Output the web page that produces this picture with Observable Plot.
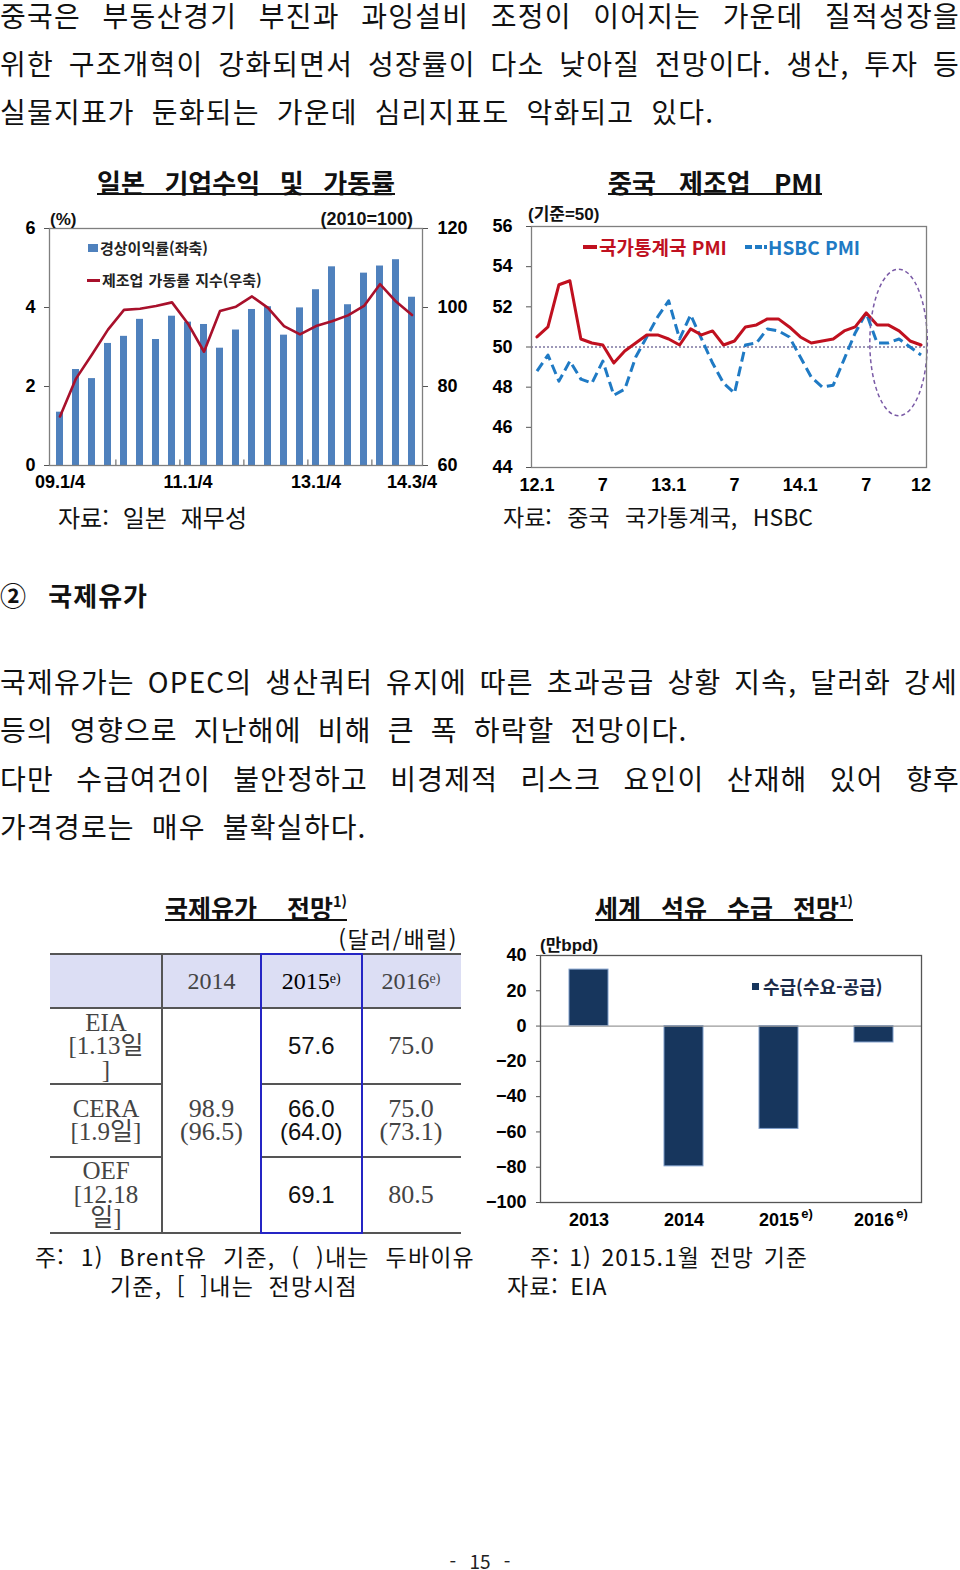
<!DOCTYPE html>
<html lang="ko"><head><meta charset="utf-8">
<script src="https://cdn.jsdelivr.net/npm/d3@7"></script>
<script src="https://cdn.jsdelivr.net/npm/@observablehq/plot@0.6"></script>
<style>
html,body{margin:0;padding:0;background:#fff;}
#page{position:relative;width:960px;height:1570px;overflow:hidden;background:#fff;font-family:"Noto Sans CJK KR","Noto Sans",sans-serif;color:#111;}
.a{position:absolute;white-space:nowrap;line-height:1;}
.fx{display:flex;justify-content:space-between;}
.chart{position:absolute;}
.chart svg{overflow:visible;}
.cell{position:absolute;display:flex;flex-direction:column;align-items:center;justify-content:center;text-align:center;white-space:nowrap;}
sup{font-size:0.58em;vertical-align:top;position:relative;top:-0.1em;}
</style></head><body><div id="page"></div>
<script>
// ---------------- DATA ----------------
// Japan: ordinary profit ratio (%, left) and manufacturing operating rate index (2010=100, right)
const quarters = ["09.1/4","09.2/4","09.3/4","09.4/4","10.1/4","10.2/4","10.3/4","10.4/4",
  "11.1/4","11.2/4","11.3/4","11.4/4","12.1/4","12.2/4","12.3/4","12.4/4",
  "13.1/4","13.2/4","13.3/4","13.4/4","14.1/4","14.2/4","14.3/4"];
const profitRate = [1.35,2.43,2.20,3.09,3.27,3.70,3.19,3.78,3.63,3.57,2.97,3.43,3.95,4.02,3.30,3.99,4.45,5.03,4.07,4.87,5.05,5.21,4.26];
const utilizationIndex = [72.4,82.0,88.1,94.4,99.4,99.7,100.4,101.3,95.9,88.8,99.1,100.2,102.8,99.9,95.3,93.2,95.3,96.5,98.0,100.4,105.9,101.5,98.1];
const jpLabeledQuarters = ["09.1/4","11.1/4","13.1/4","14.3/4"];
const jpYearStarts = ["10.1/4","11.1/4","12.1/4","13.1/4","14.1/4"];
const jpLeftTicks = [0,2,4,6];
const jpRightTicks = [60,80,100,120];

// China PMI
const pmiMonths = ["12.1","12.2","12.3","12.4","12.5","12.6","12.7","12.8","12.9","12.10","12.11","12.12",
  "13.1","13.2","13.3","13.4","13.5","13.6","13.7","13.8","13.9","13.10","13.11","13.12",
  "14.1","14.2","14.3","14.4","14.5","14.6","14.7","14.8","14.9","14.10","14.11","14.12"];
const nbsPMI = [50.5,51.0,53.1,53.3,50.4,50.2,50.1,49.2,49.8,50.2,50.6,50.6,
  50.4,50.1,50.9,50.6,50.8,50.1,50.3,51.0,51.1,51.4,51.4,51.0,
  50.5,50.2,50.3,50.4,50.8,51.0,51.7,51.1,51.1,50.8,50.3,50.1];
const hsbcPMI = [48.8,49.6,48.3,49.3,48.4,48.2,49.3,47.6,47.9,49.5,50.5,51.5,
  52.3,50.4,51.6,50.4,49.2,48.2,47.7,50.1,50.2,50.9,50.8,50.5,
  49.5,48.5,48.0,48.1,49.4,50.7,51.7,50.2,50.2,50.4,50.0,49.6];
const pmiTickMonths = ["12.1","12.7","13.1","13.7","14.1","14.7","14.12"];
const pmiTickText = ["12.1","7","13.1","7","14.1","7","12"];
const pmiYTicks = [44,46,48,50,52,54,56];

// Oil price outlook table (USD/bbl)
const tableYears = ["2014","2015","2016"];
const tableForecast = [false,true,true];
const tableSources = [["EIA","[1.13일","]"],["CERA","[1.9일]"],["OEF","[12.18","일]"]];
const price2014 = ["98.9","(96.5)"];
const price2015 = [["57.6"],["66.0","(64.0)"],["69.1"]];
const price2016 = [["75.0"],["75.0","(73.1)"],["80.5"]];

// World oil supply-demand balance (10k bpd)
const supplyYears = ["2013","2014","2015","2016"];
const supplyBalance = [32,-79.5,-58.3,-9.3];
const supplyForecast = [false,false,true,true];
const supplyTicks = [-100,-80,-60,-40,-20,0,20,40];

// ---------------- TEXT HELPERS ----------------
const page = document.getElementById("page");
function txt(o){
  const d = document.createElement("div");
  d.className = "a";
  const fs = o.fs;
  d.style.fontSize = fs+"px";
  d.style.top = Math.max(0, o.cy - fs*(o.off ?? 0.55))+"px";
  if (o.font) d.style.fontFamily = o.font;
  d.style.fontWeight = o.weight ?? 400;
  d.style.color = o.color ?? "#111";
  if (o.ls!=null) d.style.letterSpacing = o.ls+"px";
  if (o.words){
    d.classList.add("fx");
    d.style.left = o.x+"px"; d.style.width = o.w+"px";
    o.words.forEach(wd=>{const s=document.createElement("span"); s.innerHTML=wd; d.appendChild(s);});
  } else {
    d.innerHTML = o.text;
    if (o.ws!=null) d.style.wordSpacing = o.ws+"px";
    if (o.anchor==="middle"){d.style.left=o.x+"px"; d.style.transform="translateX(-50%)";}
    else if (o.anchor==="end"){d.style.right=(960-o.x)+"px";}
    else d.style.left=o.x+"px";
  }
  page.appendChild(d); return d;
}
function box(x,y,w,h,bg,extra){
  const d=document.createElement("div"); d.style.position="absolute";
  d.style.left=x+"px"; d.style.top=y+"px"; d.style.width=w+"px"; d.style.height=h+"px";
  if (bg) d.style.background=bg; if (extra) Object.assign(d.style, extra);
  page.appendChild(d); return d;
}
const J = s => s.split(" ");

// ---------------- BODY TEXT ----------------
const BF = 28, BL = 1.2;
txt({words:J("중국은 부동산경기 부진과 과잉설비 조정이 이어지는 가운데 질적성장을"), x:0, w:960, cy:16, fs:BF, ls:BL});
txt({words:J("위한 구조개혁이 강화되면서 성장률이 다소 낮아질 전망이다. 생산, 투자 등"), x:0, w:960, cy:64, fs:BF, ls:BL});
txt({text:"실물지표가 둔화되는 가운데 심리지표도 악화되고 있다.", x:0, cy:112, fs:BF, ls:BL, ws:8});

txt({words:["②","국제유가"], x:0, w:148, cy:596, fs:26, weight:700, ls:1});
txt({words:J("국제유가는 OPEC의 생산쿼터 유지에 따른 초과공급 상황 지속, 달러화 강세"), x:0, w:958, cy:682, fs:BF, ls:BL});
txt({text:"등의 영향으로 지난해에 비해 큰 폭 하락할 전망이다.", x:0, cy:730, fs:BF, ls:BL, ws:7});
txt({words:J("다만 수급여건이 불안정하고 비경제적 리스크 요인이 산재해 있어 향후"), x:0, w:960, cy:779, fs:BF, ls:BL});
txt({text:"가격경로는 매우 불확실하다.", x:0, cy:827, fs:BF, ls:BL, ws:8});

// ---------------- CHART TITLES ----------------
txt({words:J("일본 기업수익 및 가동률"), x:97, w:298, cy:183, fs:26, weight:700});
box(97,193,298,2,"#111");
txt({words:J("중국 제조업 PMI"), x:608, w:214, cy:183, fs:26, weight:700});
box(608,193,214,2,"#111");
txt({words:["국제유가","전망<sup>1)</sup>"], x:165, w:182, cy:909, fs:25, weight:700});
box(165,919,182,2,"#111");
txt({words:["세계","석유","수급","전망<sup>1)</sup>"], x:595, w:258, cy:909, fs:25, weight:700});
box(595,919,258,2,"#111");

// ---------------- CHART 1: Japan ----------------
const AXF = "'Liberation Sans',Arial,'Noto Sans CJK KR',sans-serif";
function mount(svg, x, y){ const d=document.createElement("div"); d.className="chart"; d.style.left=x+"px"; d.style.top=y+"px"; d.appendChild(svg); page.appendChild(d); }

const jp = quarters.map((q,i)=>({q, profit:profitRate[i], util:utilizationIndex[i]}));
const jpStep = (480-49-58)/quarters.length;
const c1 = Plot.plot({
  width:480, height:300, marginLeft:49, marginRight:58, marginTop:28, marginBottom:35,
  style:{fontFamily:AXF, fontSize:"18px", fontWeight:"bold", color:"#000", background:"none", overflow:"visible"},
  x:{type:"band", domain:quarters, paddingInner:0.55, paddingOuter:0.275, axis:null},
  y:{domain:[0,6], axis:null},
  marks:[
    Plot.barY(jp,{x:"q", y:"profit", fill:"#4f81bd"}),
    Plot.line(jp,{x:"q", y:d=>(d.util-60)/10, stroke:"#a8102b", strokeWidth:2.6}),
    Plot.frame({stroke:"#7f7f7f", strokeWidth:1.3}),
    Plot.ruleX(jpYearStarts,{x:d=>d, y1:0, y2:0.14, dx:-jpStep/2, stroke:"#555"}),
    Plot.axisY({anchor:"left", ticks:jpLeftTicks, tickFormat:d=>String(d), tickSize:5, tickPadding:9, label:null, stroke:"#555"}),
    Plot.axisY({anchor:"right", ticks:jpLeftTicks, tickFormat:d=>String(jpRightTicks[jpLeftTicks.indexOf(d)]), tickSize:5, tickPadding:10, label:null, stroke:"#555"}),
    Plot.axisX({ticks:jpLabeledQuarters, tickSize:0, tickPadding:10, label:null})
  ]
});
mount(c1,0,200);
txt({text:"(%)", x:50, cy:219, fs:17, weight:700, font:AXF, off:0.5});
txt({text:"(2010=100)", x:413, anchor:"end", cy:219, fs:18, weight:700, font:AXF, off:0.5});
box(88,244,10,8,"#4f81bd");
txt({text:"경상이익률(좌축)", x:100, cy:248, fs:15, weight:700, color:"#222"});
box(87,279,13,3,"#a8102b");
txt({text:"제조업 가동률 지수(우축)", x:102, cy:280, fs:15, weight:700, color:"#222", ws:1});
txt({words:["자료:","일본","재무성"], x:58, w:189, cy:518, fs:24});

// ---------------- CHART 2: China PMI ----------------
const pmi = pmiMonths.map((m,i)=>({m, nbs:nbsPMI[i], hsbc:hsbcPMI[i]}));
function ellipseMark(index, scales){
  const x = scales.x, y = scales.y;
  const step = x(pmiMonths[1]) - x(pmiMonths[0]);
  const cx = x("14.10"), cy = y(50.2);
  const rx = 2.62*step, ry = Math.abs(y(50.2+3.65) - cy);
  const g = d3.create("svg:g");
  g.append("ellipse").attr("cx",cx).attr("cy",cy).attr("rx",rx).attr("ry",ry)
    .attr("fill","none").attr("stroke","#7a5aa6").attr("stroke-width",1.5).attr("stroke-dasharray","4,3");
  return g.node();
}
const c2 = Plot.plot({
  width:480, height:300, marginLeft:51, marginRight:34, marginTop:26, marginBottom:33,
  style:{fontFamily:AXF, fontSize:"18px", fontWeight:"bold", color:"#000", background:"none", overflow:"visible"},
  x:{type:"point", domain:pmiMonths, padding:0.5, axis:null},
  y:{domain:[44,56], axis:null},
  marks:[
    Plot.ruleY([50],{stroke:"#3b3170", strokeDasharray:"2,2", strokeWidth:1}),
    Plot.line(pmi,{x:"m", y:"hsbc", stroke:"#1f7ac4", strokeWidth:3, strokeDasharray:"10,5", strokeLinecap:"butt"}),
    Plot.line(pmi,{x:"m", y:"nbs", stroke:"#c0101f", strokeWidth:3}),
    ellipseMark,
    Plot.frame({stroke:"#7f7f7f", strokeWidth:1.3}),
    Plot.axisY({anchor:"left", ticks:pmiYTicks, tickSize:5, tickPadding:14, label:null, stroke:"#555"}),
    Plot.axisX({ticks:pmiTickMonths, tickFormat:m=>pmiTickText[pmiTickMonths.indexOf(m)], tickSize:0, tickPadding:11, label:null})
  ]
});
mount(c2,480,200);
txt({text:"(기준=50)", x:528, cy:214, fs:17, weight:700, font:AXF, off:0.5});
box(583,245,14,4,"#c0101f");
txt({text:"국가통계국 PMI", x:599, cy:247, fs:19, weight:700, color:"#c0101f"});
box(745,245,7,4,"#1f7ac4"); box(755,245,7,4,"#1f7ac4"); box(764,245,3,4,"#1f7ac4");
txt({text:"HSBC PMI", x:768, cy:247, fs:19, weight:700, color:"#1f7ac4"});
txt({words:["자료:","중국","국가통계국,","HSBC"], x:503, w:310, cy:518, fs:23});

// ---------------- TABLE ----------------
const colX = [50,162,261,361.5,460.5];
const rowY = [954,1007.5,1084,1156.5,1232.5];
const SER = "'Liberation Serif','Times New Roman','Noto Sans CJK KR',serif";
const SAN = "'Liberation Sans',Arial,'Noto Sans CJK KR',sans-serif";
txt({text:"(달러/배럴)", x:458, anchor:"end", cy:940, fs:23, ls:1.5});
box(colX[0],rowY[0],colX[4]-colX[0],rowY[1]-rowY[0],"#dcdef4");
function cell(c0,c1,r0,r1,lines,font,fs,color,lh){
  const d=document.createElement("div"); d.className="cell";
  d.style.left=colX[c0]+"px"; d.style.width=(colX[c1]-colX[c0])+"px";
  d.style.top=rowY[r0]+"px"; d.style.height=(rowY[r1]-rowY[r0])+"px";
  d.style.fontFamily=font; d.style.fontSize=fs+"px"; d.style.color=color; d.style.lineHeight=(lh||23)+"px";
  d.innerHTML=lines.map(l=>"<div>"+l+"</div>").join("");
  page.appendChild(d);
}
tableYears.forEach((y,i)=>{
  const label = y + (tableForecast[i] ? "<sup>e)</sup>" : "");
  cell(i+1,i+2,0,1,[label],SER,24,i===1?"#000":"#444",24);
});
tableSources.forEach((s,r)=>cell(0,1,r+1,r+2,s,SER,25,"#444",23.5));
cell(1,2,1,4,price2014,SER,26,"#444",23.5);
price2015.forEach((v,r)=>cell(2,3,r+1,r+2,v,SAN,24,"#111",23.5));
price2016.forEach((v,r)=>cell(3,4,r+1,r+2,v,SER,26,"#444",23.5));
// table rules
box(colX[0],rowY[0]-1,colX[4]-colX[0],2,"#555");
box(colX[0],rowY[1]-1,colX[4]-colX[0],2,"#555");
[2,3].forEach(r=>{ box(colX[0],rowY[r]-1,colX[1]-colX[0],2,"#555"); box(colX[2],rowY[r]-1,colX[4]-colX[2],2,"#555"); });
box(colX[0],rowY[4]-1,colX[4]-colX[0],2,"#555");
box(colX[1]-1,rowY[0],2,rowY[4]-rowY[0],"#555");
box(colX[2]-1.5,rowY[0]-1,colX[3]-colX[2]+3,rowY[4]-rowY[0]+2,null,{border:"2.5px solid #2525c4",boxSizing:"border-box"});

txt({words:["주:","1)","Brent유","기준,","(",")내는","두바이유"], x:35, w:440, cy:1258, fs:23, ls:1.2});
txt({words:["기준,","[","]내는","전망시점"], x:110, w:248, cy:1287, fs:23, ls:1.2});

// ---------------- CHART 3: supply balance ----------------
const sd = supplyYears.map((y,i)=>({y, v:supplyBalance[i], f:supplyForecast[i]}));
const c3 = Plot.plot({
  width:480, height:310, marginLeft:60, marginRight:39, marginTop:25, marginBottom:38,
  style:{fontFamily:AXF, fontSize:"18px", fontWeight:"bold", color:"#000", background:"none", overflow:"visible"},
  x:{type:"band", domain:supplyYears, paddingInner:0.593, paddingOuter:0.296, axis:null},
  y:{domain:[-100,40], axis:null},
  marks:[
    Plot.barY(sd,{x:"y", y:"v", fill:"#17365d", stroke:"#7d9cc9", strokeWidth:1}),
    Plot.ruleY([0],{stroke:"#9a9a9a", strokeWidth:1.2}),
    Plot.frame({stroke:"#555", strokeWidth:1.3}),
    Plot.axisY({ticks:supplyTicks, tickSize:4, tickPadding:10, label:null, stroke:"#555"}),
    Plot.axisX({tickSize:0, tickPadding:11, label:null}),
    Plot.text(sd.filter(d=>d.f),{x:"y", y:-100, text:()=>"e)", dx:28, dy:11, fontSize:13})
  ]
});
mount(c3,480,930);
txt({text:"(만bpd)", x:540, cy:945, fs:17, weight:700, font:AXF, off:0.5});
box(752,983,7,7,"#17365d");
txt({text:"수급(수요-공급)", x:763, cy:987, fs:18, weight:700, color:"#1a2a48"});
txt({words:["주:","1)","2015.1월","전망","기준"], x:530, w:278, cy:1258, fs:23, ls:1});
txt({text:"자료: EIA", x:507, cy:1287, fs:23, ws:4, ls:1});

// ---------------- PAGE NUMBER ----------------
txt({text:"- 15 -", x:480, anchor:"middle", cy:1561, fs:19, ws:8, color:"#222"});
</script></body></html>
